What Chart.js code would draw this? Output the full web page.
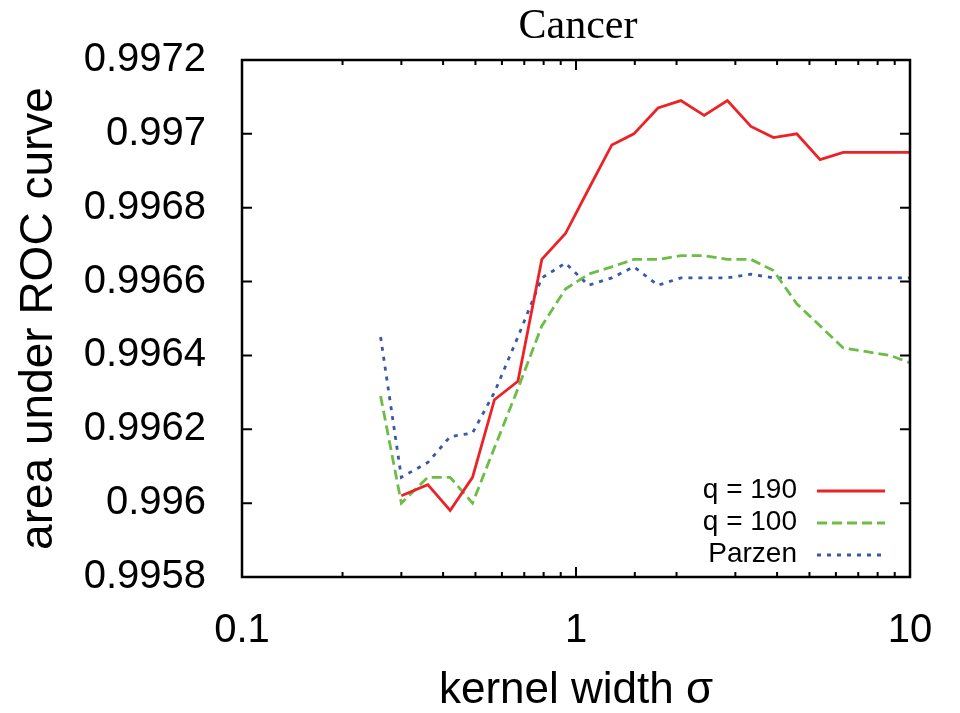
<!DOCTYPE html>
<html>
<head>
<meta charset="utf-8">
<script src="https://cdn.jsdelivr.net/npm/chart.js@4"></script>
<style>
  html, body { margin: 0; padding: 0; background: #fff; }
  canvas { display: block; }
</style>
</head>
<body>
<canvas id="roc" width="960" height="713"></canvas>
<script>
// kernel width sigma (log axis)
const sigma = [0.26, 0.30, 0.36, 0.42, 0.49, 0.57, 0.67, 0.79, 0.93, 1.09, 1.28, 1.49,
  1.76, 2.06, 2.42, 2.84, 3.34, 3.90, 4.58, 5.38, 6.31, 7.42, 8.71, 10];

const q190 = [null, 0.99602, 0.99605, 0.99598, 0.99607, 0.99628, 0.99633, 0.99666, 0.99673,
  0.99685, 0.99697, 0.99700, 0.99707, 0.99709, 0.99705, 0.99709, 0.99702, 0.99699, 0.99700,
  0.99693, 0.99695, 0.99695, 0.99695, 0.99695];

const q100 = [0.99629, 0.99600, 0.99607, 0.99607, 0.99600, 0.99615, 0.99631, 0.99648, 0.99658,
  0.99662, 0.99664, 0.99666, 0.99666, 0.99667, 0.99667, 0.99666, 0.99666, 0.99663, 0.99654,
  0.99648, 0.99642, 0.99641, 0.99640, 0.99638];

const parzen = [0.99645, 0.99607, 0.99611, 0.99618, 0.99619, 0.99630, 0.99645, 0.99661, 0.99665,
  0.99659, 0.99661, 0.99664, 0.99659, 0.99661, 0.99661, 0.99661, 0.99662, 0.99661, 0.99661,
  0.99661, 0.99661, 0.99661, 0.99661, 0.99661];

const seriesNames = ['q = 190', 'q = 100', 'Parzen'];

const yTickValues = [0.9958, 0.996, 0.9962, 0.9964, 0.9966, 0.9968, 0.997, 0.9972];
const yTickLabels = ['0.9958', '0.996', '0.9962', '0.9964', '0.9966', '0.9968', '0.997', '0.9972'];
const xTickLabels = ['0.1', '1', '10'];

const SANS = '"Liberation Sans", Arial, Helvetica, sans-serif';
const SERIF = '"Liberation Serif", "Times New Roman", serif';

function toPoints(ys) {
  return sigma.map((x, i) => ({ x: x, y: ys[i] }));
}

function isMajorX(v) {
  return xTickLabels.some(l => Math.abs(Number(l) - v) < 1e-9);
}

// title, frame with inside ticks, legend
const decorations = {
  id: 'decorations',
  afterDatasetsDraw(chart) {
    const ctx = chart.ctx;
    const area = chart.chartArea;
    const xs = chart.scales.x;
    const ys = chart.scales.y;
    ctx.save();

    // title
    ctx.fillStyle = '#000';
    ctx.font = '42px ' + SERIF;
    ctx.textAlign = 'center';
    ctx.textBaseline = 'alphabetic';
    ctx.fillText('Cancer', (area.left + area.right) / 2 + 2, 38);

    // frame
    ctx.strokeStyle = '#000';
    ctx.lineWidth = 2.5;
    ctx.strokeRect(area.left, area.top, area.right - area.left, area.bottom - area.top);

    // ticks
    ctx.lineWidth = 2;
    ctx.beginPath();
    xs.ticks.forEach(t => {
      const px = xs.getPixelForValue(t.value);
      const len = isMajorX(t.value) ? 10 : 5;
      ctx.moveTo(px, area.bottom); ctx.lineTo(px, area.bottom - len);
      ctx.moveTo(px, area.top); ctx.lineTo(px, area.top + len);
    });
    yTickValues.forEach(v => {
      const py = ys.getPixelForValue(v);
      ctx.moveTo(area.left, py); ctx.lineTo(area.left + 10, py);
      ctx.moveTo(area.right, py); ctx.lineTo(area.right - 10, py);
    });
    ctx.stroke();

    // legend
    ctx.font = '28px ' + SANS;
    ctx.textAlign = 'right';
    chart.data.datasets.forEach((ds, i) => {
      const base = 498 + i * 32;
      ctx.fillStyle = '#000';
      ctx.fillText(ds.label, 797, base);
      ctx.strokeStyle = ds.borderColor;
      ctx.lineWidth = ds.borderWidth;
      ctx.setLineDash(ds.borderDash || []);
      ctx.beginPath();
      ctx.moveTo(817, base - 7);
      ctx.lineTo(885, base - 7);
      ctx.stroke();
      ctx.setLineDash([]);
    });
    ctx.restore();
  }
};

new Chart(document.getElementById('roc'), {
  type: 'line',
  data: {
    datasets: [
      {
        label: seriesNames[0],
        data: toPoints(q190),
        borderColor: '#ec2227',
        borderWidth: 2.8
      },
      {
        label: seriesNames[1],
        data: toPoints(q100),
        borderColor: '#6cbd45',
        borderWidth: 2.8,
        borderDash: [10, 5]
      },
      {
        label: seriesNames[2],
        data: toPoints(parzen),
        borderColor: '#3858a8',
        borderWidth: 2.8,
        borderDash: [4, 6]
      }
    ]
  },
  options: {
    responsive: false,
    animation: false,
    spanGaps: false,
    layout: { padding: { top: 60, right: 50, left: 0, bottom: 0 } },
    elements: {
      point: { radius: 0 },
      line: { tension: 0 }
    },
    scales: {
      x: {
        type: 'logarithmic',
        min: 0.1,
        max: 10,
        grid: { display: false },
        border: { display: false },
        ticks: {
          autoSkip: false,
          maxRotation: 0,
          padding: 22,
          color: '#000',
          font: { family: SANS, size: 40 },
          callback: (v) => {
            const lbl = xTickLabels.find(l => Math.abs(Number(l) - v) < 1e-9);
            return lbl || '';
          }
        },
        title: {
          display: true,
          text: 'kernel width σ',
          color: '#000',
          font: { family: SANS, size: 44, lineHeight: 1.0 },
          padding: 0
        },
        afterFit: (scale) => { scale.height = 136; }
      },
      y: {
        min: 0.9958,
        max: 0.9972,
        grid: { display: false },
        border: { display: false },
        afterBuildTicks: (scale) => {
          scale.ticks = yTickValues.map(v => ({ value: v }));
        },
        ticks: {
          padding: 28,
          color: '#000',
          font: { family: SANS, size: 40 },
          callback: (v, i) => yTickLabels[i]
        },
        title: {
          display: true,
          text: 'area under ROC curve',
          color: '#000',
          font: { family: SANS, size: 46 },
          padding: { top: 12, bottom: 0 }
        },
        afterFit: (scale) => { scale.width = 242; }
      }
    },
    plugins: {
      legend: { display: false },
      tooltip: { enabled: false }
    }
  },
  plugins: [decorations]
});
</script>
</body>
</html>
